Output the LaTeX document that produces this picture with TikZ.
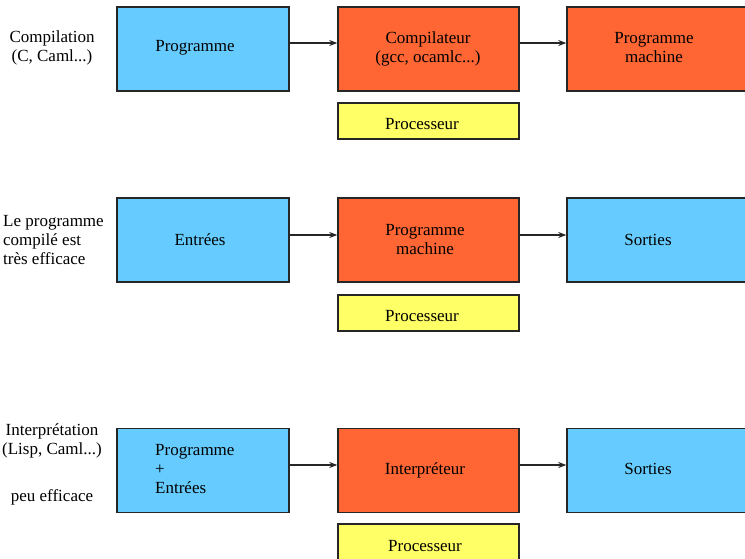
\documentclass[tikz,border=0pt]{standalone}
\usepackage{fontspec}
\setmainfont{Liberation Serif}
\usetikzlibrary{arrows.meta}
\definecolor{cblue}{HTML}{66CCFF}
\definecolor{corange}{HTML}{FF6633}
\definecolor{cyellow}{HTML}{FFFF66}
\begin{document}
\begin{tikzpicture}[x=1pt,y=-1pt,
  every node/.style={font=\fontsize{17}{19}\selectfont},
  box/.style={draw=black!85, line width=1.4pt, inner sep=0pt, minimum height=84pt},
  bluebox/.style={box, fill=cblue},
  orangebox/.style={box, fill=corange},
  procbox/.style={box, fill=cyellow, minimum height=36pt, minimum width=181pt},
  txt/.style={inner sep=0pt, align=center},
  ltxt/.style={inner sep=0pt, align=left},
  arr/.style={line width=1.5pt, draw=black!85, -{Stealth[length=8pt,width=6pt,inset=2.5pt]}}
]
\useasboundingbox (0,0) rectangle (745,558);

% Row 1
\node[bluebox, minimum width=172pt] (b11) at (203,49) {};
\node[orangebox, minimum width=181pt] (b12) at (428.5,49) {};
\node[orangebox, minimum width=183pt] (b13) at (658.5,49) {};
\node[procbox] (p1) at (428.5,121) {};
\draw[arr] ([yshift=6pt]b11.east) -- ([yshift=6pt]b12.west);
\draw[arr] ([yshift=6pt]b12.east) -- ([yshift=6pt]b13.west);
\node[txt] (l1) at (52,47.5) {Compilation\\(C, Caml...)};
\node[txt] (t11) at (195,48) {Programme};
\node[txt] (t12) at (428,48.5) {Compilateur\\(gcc, ocamlc...)};
\node[txt] (t13) at (654,48) {Programme\\machine};
\node[txt] (tp1) at (422,124) {Processeur};

% Row 2
\node[bluebox, minimum width=172pt] (b21) at (203,240) {};
\node[orangebox, minimum width=181pt] (b22) at (428.5,240) {};
\node[bluebox, minimum width=183pt] (b23) at (658.5,240) {};
\node[procbox] (p2) at (428.5,313) {};
\draw[arr] ([yshift=5pt]b21.east) -- ([yshift=5pt]b22.west);
\draw[arr] ([yshift=5pt]b22.east) -- ([yshift=5pt]b23.west);
\node[ltxt, anchor=west] (l2) at (3,240.5) {Le programme\\compilé est\\très efficace};
\node[txt] (t21) at (200,240) {Entrées};
\node[txt] (t22) at (425,239.5) {Programme\\machine};
\node[txt] (t23) at (648,240) {Sorties};
\node[txt] (tp2) at (422,316) {Processeur};

% Row 3
\node[bluebox, minimum width=172pt] (b31) at (203,470.5) {};
\node[orangebox, minimum width=181pt] (b32) at (428.5,470.5) {};
\node[bluebox, minimum width=183pt] (b33) at (658.5,470.5) {};
\node[procbox] (p3) at (428.5,542) {};
\draw[arr] ([yshift=5.5pt]b31.east) -- ([yshift=5.5pt]b32.west);
\draw[arr] ([yshift=5.5pt]b32.east) -- ([yshift=5.5pt]b33.west);
\node[txt] (l3) at (52,441) {Interprétation\\(Lisp, Caml...)};
\node[txt] (l4) at (52,497) {peu efficace};
\node[ltxt, anchor=west] (t31) at (155,469) {Programme\\+\\Entrées};
\node[txt] (t32) at (425,470) {Interpréteur};
\node[txt] (t33) at (648,469) {Sorties};
\node[txt] (tp3) at (425,546) {Processeur};
\end{tikzpicture}
\end{document}
